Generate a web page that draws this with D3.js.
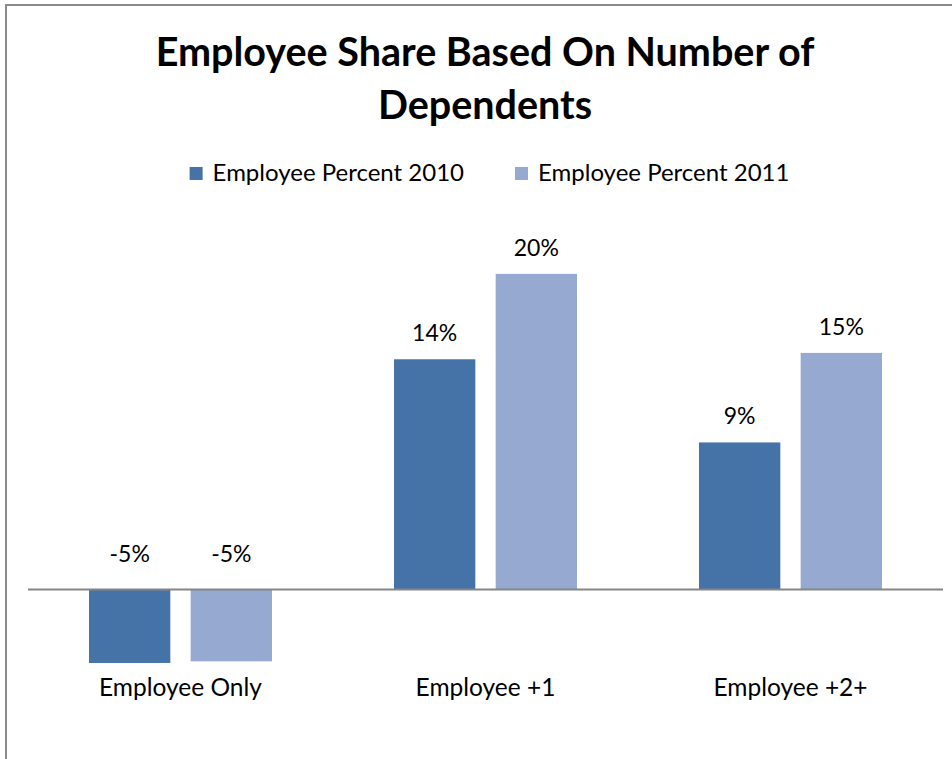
<!DOCTYPE html>
<html>
<head>
<meta charset="utf-8">
<script src="https://cdn.jsdelivr.net/npm/d3@7"></script>
<style>
  html, body { margin: 0; padding: 0; background: #fff; }
  svg { display: block; font-family: Lato, "Noto Sans", sans-serif; }
</style>
</head>
<body>
<svg id="chart" width="952" height="759"></svg>
<script>
// Chart data
const categories = ["Employee Only", "Employee +1", "Employee +2+"];
const seriesNames = ["Employee Percent 2010", "Employee Percent 2011"];
const percent2010 = [-0.0462, 0.1448, 0.0925];
const percent2011 = [-0.0452, 0.1985, 0.1488];
const titleLines = ["Employee Share Based On Number of", "Dependents"];

const seriesValues = [percent2010, percent2011];
const colors = ["#4573a7", "#95a9d1"];

const rows = categories.map((c, i) => ({
  category: c,
  values: seriesNames.map((s, j) => ({ series: s, value: seriesValues[j][i] }))
}));

const svg = d3.select("#chart");
const fmt = d3.formatLocale({ decimal: ".", thousands: ",", grouping: [3], currency: ["$", ""], minus: "-" }).format(".0%");

// Outer chart frame
svg.append("rect")
  .attr("x", 6).attr("y", 5)
  .attr("width", 1000).attr("height", 1000)
  .attr("fill", "none").attr("stroke", "#8a8a8a").attr("stroke-width", 2);

// Title
svg.append("text")
  .attr("text-anchor", "middle")
  .attr("font-weight", "bold")
  .attr("font-size", 39.5)
  .attr("fill", "#000")
  .selectAll("tspan")
  .data(titleLines)
  .join("tspan")
  .attr("x", 485)
  .attr("y", (d, i) => 66 + i * 53)
  .text(d => d);

// Scales
const x0 = d3.scaleBand().domain(categories).range([28, 943]).padding(0);
const x1 = d3.scaleBand().domain(seriesNames).range([0, x0.bandwidth()])
  .paddingInner(0.2).paddingOuter(0.6);
const y = d3.scaleLinear().domain([-0.05, 0.25]).range([669, 192]);
const color = d3.scaleOrdinal().domain(seriesNames).range(colors);

// Bars
const groups = svg.append("g").selectAll("g")
  .data(rows)
  .join("g")
  .attr("transform", d => `translate(${x0(d.category)},0)`);

groups.selectAll("rect")
  .data(d => d.values)
  .join("rect")
  .attr("x", d => x1(d.series))
  .attr("width", x1.bandwidth())
  .attr("y", d => y(Math.max(0, d.value)))
  .attr("height", d => Math.abs(y(d.value) - y(0)))
  .attr("fill", d => color(d.series));

// Data labels
groups.selectAll("text")
  .data(d => d.values)
  .join("text")
  .attr("x", d => x1(d.series) + x1.bandwidth() / 2)
  .attr("y", d => d.value >= 0 ? y(d.value) - 18 : y(0) - 28)
  .attr("text-anchor", "middle")
  .attr("font-size", 23)
  .attr("fill", "#000")
  .text(d => fmt(d.value));

// Category axis along zero
const xAxis = svg.append("g")
  .attr("transform", `translate(0,${y(0)})`)
  .call(d3.axisBottom(x0).tickSize(0).tickPadding(0));
xAxis.select(".domain").attr("stroke", "#868686").attr("stroke-width", 2)
  .attr("d", `M28,0H943`);
xAxis.selectAll(".tick text").remove();

// Category labels sit below the negative bars
svg.append("g").selectAll("text")
  .data(categories)
  .join("text")
  .attr("x", d => x0(d) + x0.bandwidth() / 2)
  .attr("y", 696)
  .attr("text-anchor", "middle")
  .attr("font-size", 24.5)
  .attr("fill", "#000")
  .text(d => d);

// Legend
const legend = svg.append("g");
const items = legend.selectAll("g")
  .data(seriesNames)
  .join("g");
items.append("rect")
  .attr("width", 13).attr("height", 13)
  .attr("y", 167)
  .attr("fill", d => color(d));
items.append("text")
  .attr("x", 23)
  .attr("y", 181)
  .attr("font-size", 24)
  .attr("fill", "#000")
  .text(d => d);

const widths = [];
items.each(function () {
  widths.push(23 + this.querySelector("text").getComputedTextLength());
});
const gapBetween = 51;
const total = d3.sum(widths) + gapBetween * (widths.length - 1);
let cursor = 489.5 - total / 2;
items.attr("transform", (d, i) => {
  const t = `translate(${cursor},0)`;
  cursor += widths[i] + gapBetween;
  return t;
});
</script>
</body>
</html>
